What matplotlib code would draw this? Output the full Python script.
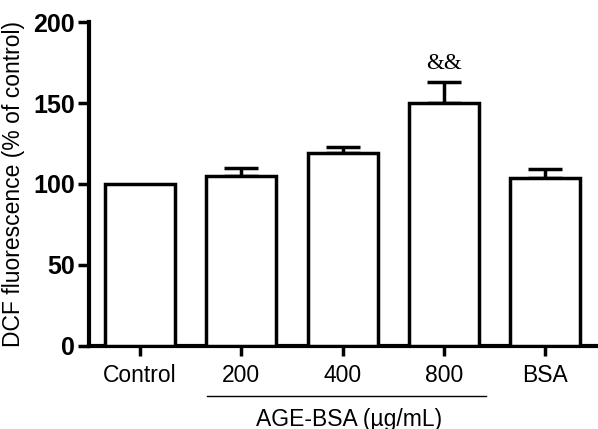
import matplotlib
matplotlib.use("Agg")
import matplotlib.pyplot as plt
import matplotlib.transforms as mtransforms

categories = ["Control", "200", "400", "800", "BSA"]
values = [100, 105, 119, 150, 104]
errors = [0, 5, 4, 13, 5]
yticks = [0, 50, 100, 150, 200]
group_label = "AGE-BSA (µg/mL)"
annot = "&&"

plt.rcParams['font.family'] = ['Liberation Sans', 'DejaVu Sans']

fig = plt.figure(figsize=(5.98, 4.29), dpi=100)
ax = fig.add_axes([0.1488, 0.1935, 0.8482, 0.7552])

x = list(range(len(categories)))
ax.bar(x, values, width=0.69, color='white', edgecolor='black', linewidth=2.5, zorder=3)
# error bars (upper only)
for xi, v, e in zip(x, values, errors):
    if e > 0:
        ax.errorbar([xi], [v], yerr=[[0], [e]], fmt='none', ecolor='black',
                    elinewidth=2.5, capsize=12, capthick=2.5, zorder=2)

ax.set_xlim(-0.5, 4.5)
ax.set_ylim(0, 200)
ax.set_yticks(yticks)
ax.set_yticklabels([str(t) for t in yticks], fontsize=18, fontweight='bold')
ax.set_xticks(x)
ax.set_xticklabels(categories, fontsize=16.5)
ax.tick_params(axis='y', length=8, width=2.5, direction='out', pad=2)
ax.tick_params(axis='x', length=7, width=2.5, direction='out', pad=6)

for s in ['top', 'right']:
    ax.spines[s].set_visible(False)
for s in ['left', 'bottom']:
    ax.spines[s].set_linewidth(3)

ax.set_ylabel("DCF fluorescence (% of control)", fontsize=16.5, labelpad=6)

trans = mtransforms.blended_transform_factory(ax.transData, ax.transAxes)
ax.plot([0.66, 3.41], [-0.154, -0.154], color='black', linewidth=1, transform=trans, clip_on=False)
ax.text(2.06, -0.19, group_label, transform=trans, ha='center', va='top', fontsize=16.5)

ax.text(3, values[3] + errors[3] + 5, annot, ha='center', va='bottom',
        fontsize=16.5, family=['Liberation Serif', 'DejaVu Serif'])

fig.savefig("out.png", dpi=100)
